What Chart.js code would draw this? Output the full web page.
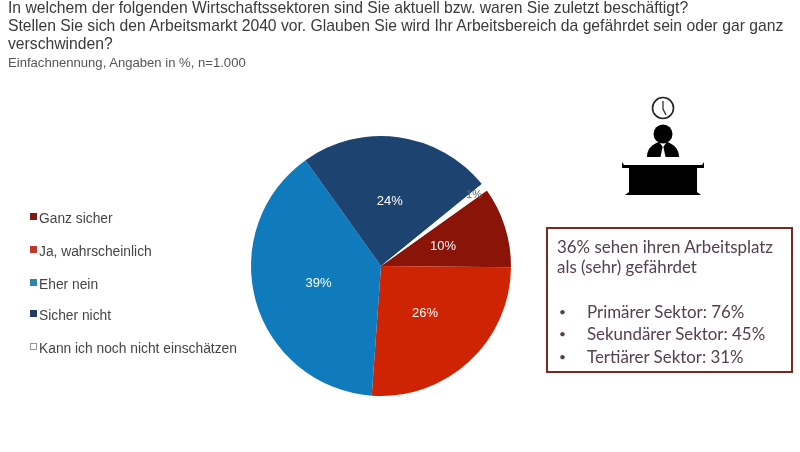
<!DOCTYPE html>
<html lang="de">
<head>
<meta charset="utf-8">
<title>Arbeitsmarkt 2040</title>
<script src="https://cdn.jsdelivr.net/npm/chart.js@4"></script>
<style>
  html, body { margin: 0; padding: 0; background: #fff; }
  #wrap { position: relative; width: 800px; height: 452px; overflow: hidden; font-family: "Liberation Sans", sans-serif; filter: blur(0.4px); }
  #myChart { position: absolute; left: 0; top: 0; }
  .t { position: absolute; white-space: nowrap; }
  .q { left: 8px; font-size: 15.7px; color: #3a3a3a; line-height: 18px; }
  #sub { left: 8px; top: 55px; font-size: 13.1px; color: #555; line-height: 16px; }
  .leg { left: 39px; font-size: 13.8px; color: #444; line-height: 16px; }
  .sw { position: absolute; left: 30px; width: 7px; height: 7px; }
  #box { position: absolute; left: 546px; top: 227px; width: 243px; height: 142px; border: 2px solid #762a22; font-family: Lato, sans-serif; color: #54404f; font-size: 16.9px; line-height: 20px; }
  #box div { position: absolute; white-space: nowrap; }
  #box .b { font-size: 12px; }
  #icon { position: absolute; left: 580px; top: 90px; }
</style>
</head>
<body>
<div id="wrap">
  <canvas id="myChart" width="800" height="452"></canvas>
  <div class="t q" style="top:-1px">In welchem der folgenden Wirtschaftssektoren sind Sie aktuell bzw. waren Sie zuletzt beschäftigt?</div>
  <div class="t q" style="top:17px">Stellen Sie sich den Arbeitsmarkt 2040 vor. Glauben Sie wird Ihr Arbeitsbereich da gefährdet sein oder gar ganz</div>
  <div class="t q" style="top:35px">verschwinden?</div>
  <div class="t" id="sub">Einfachnennung, Angaben in %, n=1.000</div>
  <div id="legend"></div>
  <svg id="icon" width="170" height="120" viewBox="0 0 170 120">
    <circle cx="83" cy="18" r="10.5" fill="#fff" stroke="#222" stroke-width="1.6"/>
    <path d="M83 11 L83 19 L86 25" fill="none" stroke="#222" stroke-width="1.2"/>
    <circle cx="83" cy="44" r="9.5" fill="#000"/>
    <path d="M67 67 C67 58 73 54 79 52 L83 57 L87 52 C93 54 99 58 99 67 Z" fill="#000"/>
    <path d="M83 55 L80.5 67 L85.5 67 Z" fill="#fff"/>
    <path d="M42 72 L44 75 L122 75 L124 72 L124 78 L117 78 L117 102 L121 105 L45 105 L49 102 L49 78 L42 78 Z" fill="#000"/>
  </svg>
  <div id="box">
    <div style="left:9px;top:8px">36% sehen ihren Arbeitsplatz</div>
    <div style="left:9px;top:28px">als (sehr) gefährdet</div>
    <div class="b" style="left:11px;top:73px">•</div>
    <div style="left:39px;top:73px">Primärer Sektor: 76%</div>
    <div class="b" style="left:11px;top:95px">•</div>
    <div style="left:39px;top:95px">Sekundärer Sektor: 45%</div>
    <div class="b" style="left:11px;top:118px">•</div>
    <div style="left:39px;top:118px">Tertiärer Sektor: 31%</div>
  </div>
</div>
<script>
// Werte
var categories = ["Ganz sicher", "Ja, wahrscheinlich", "Eher nein", "Sicher nicht", "Kann ich noch nicht einschätzen"];
var values = [10, 26, 39, 24, 1];
var sliceColors = ['#8a1407', '#cf2404', '#0f7bbd', '#1d4371', '#ffffff'];
var legendColors = ['#7d1a12', '#bd3a28', '#2c86ad', '#1f3d5c', '#ffffff'];
var legendTops = [211, 244, 277, 308, 341];

// Legende
var legend = document.getElementById('legend');
categories.forEach(function (name, i) {
    var sw = document.createElement('div');
    sw.className = 'sw';
    sw.style.top = (legendTops[i] + 2) + 'px';
    sw.style.background = legendColors[i];
    if (i === 4) sw.style.border = '1px solid #999', sw.style.width = '5px', sw.style.height = '5px';
    legend.appendChild(sw);
    var t = document.createElement('div');
    t.className = 't leg';
    t.style.top = legendTops[i] + 'px';
    t.textContent = name;
    legend.appendChild(t);
});

// Prozentwerte auf den Stuecken
var sliceLabels = {
    id: 'sliceLabels',
    afterDatasetsDraw: function (chart) {
        var c = chart.ctx;
        var arcs = chart.getDatasetMeta(0).data;
        c.save();
        c.textAlign = 'center';
        c.textBaseline = 'middle';
        arcs.forEach(function (arc, i) {
            var small = values[i] < 5;
            var mid = (arc.startAngle + arc.endAngle) / 2;
            var r = arc.outerRadius * (small ? 0.9 : 0.5);
            c.font = (small ? '11px' : '13px') + ' "Liberation Sans"';
            c.fillStyle = small ? '#666' : '#fff';
            c.fillText(values[i] + '%', arc.x + Math.cos(mid) * r, arc.y + Math.sin(mid) * r);
        });
        c.restore();
    }
};

var ctx = document.getElementById('myChart').getContext('2d');
var chart = new Chart(ctx, {
    type: 'pie',
    data: {
        labels: categories,
        datasets: [{
            data: values,
            backgroundColor: sliceColors,
            borderWidth: 0
        }]
    },
    options: {
        responsive: false,
        animation: false,
        rotation: 54.5,
        layout: { padding: { left: 251, right: 289, top: 136, bottom: 56 } },
        plugins: {
            legend: { display: false },
            tooltip: { enabled: false }
        }
    },
    plugins: [sliceLabels]
});
</script>
</body>
</html>
